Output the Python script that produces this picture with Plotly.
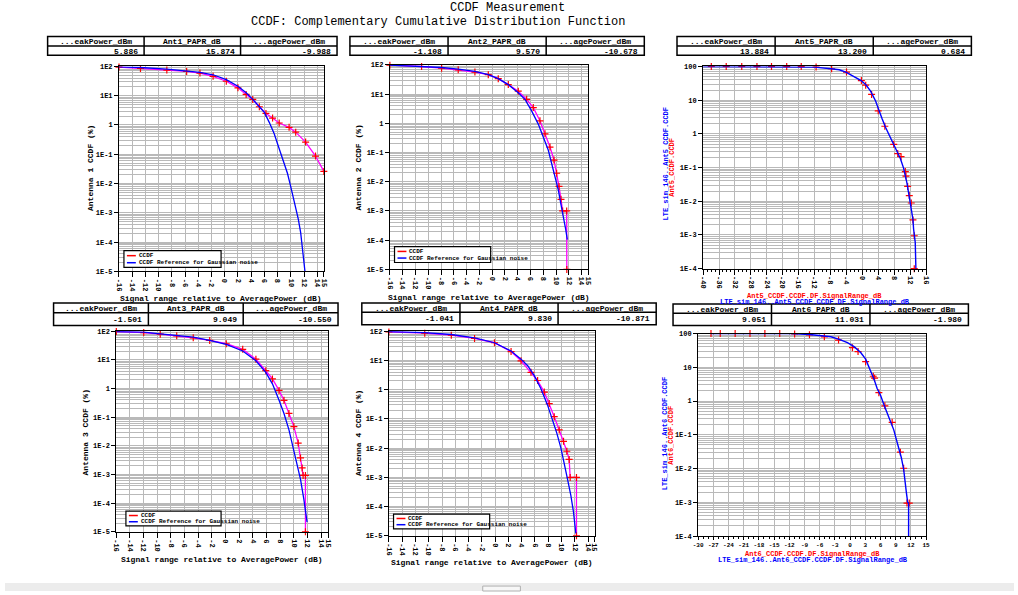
import plotly.graph_objects as go

W, H = 1018, 595
FONT = "Liberation Mono, DejaVu Sans Mono, monospace"

# ---------------- data ----------------
# Antenna 1
ant1_ref_x = [-16, -12.75, -8.76, -5.76, -3.75, -1.76, 0.24, 2.0, 3.24, 4.24, 5.24, 6.0, 6.74, 7.49,
              7.99, 8.49, 8.99, 9.49, 9.99, 10.34, 10.74, 11.14, 11.49, 11.74, 11.94, 12.14]
ant1_ref_y = [97, 92, 81, 71, 62.7, 52, 35.5, 21.2, 12.6, 7.5, 4.2, 2.7, 1.23, 0.5, 0.23, 0.106,
              0.049, 0.0224, 0.0079, 0.0037, 0.0017, 0.0006, 0.00021, 7.6e-5, 3.5e-5, 1e-5]
ant1_ccdf_x = [-16, -12.75, -8.76, -5.76, -3.75, -1.76, 0.24, 2.0, 3.24, 4.24, 5.24, 6.24, 7.24,
               8.24, 9.74, 10.74, 12.24, 13.74, 15.0]
ant1_ccdf_y = [95, 85.5, 75, 67.8, 59.5, 45.9, 31.2, 18.6, 11.1, 7.5, 4.2, 2.48, 1.73, 1.17, 0.83,
               0.57, 0.26, 0.087, 0.026]
# Antenna 2
ant2_ref_x = [-16, -11.04, -7.91, -5.31, -2.70, -0.61, 0.95, 2.52, 4.08, 5.13, 6.17, 7.21, 8.0, 8.78,
              9.30, 9.82, 10.34, 10.71, 11.13, 11.49, 11.75]
ant2_ref_y = [97.5, 90.2, 81.3, 71.4, 59.6, 46, 33.7, 21.1, 11.1, 6.6, 2.66, 0.94, 0.335, 0.119,
              0.042, 0.0151, 0.0053, 0.0019, 0.00067, 0.00024, 0.000105]
ant2_ccdf_x = [-16, -11.04, -7.91, -5.31, -2.70, -0.61, 0.95, 2.52, 4.08, 5.39, 6.43, 7.47, 8.26,
               9.04, 9.67, 10.08, 10.45, 10.76, 11.02, 11.65, 11.67]
ant2_ccdf_y = [98, 87.9, 77.2, 67.8, 56.6, 46, 33.7, 21.1, 12.6, 6.6, 3.45, 1.22, 0.435, 0.154,
               0.055, 0.0195, 0.0069, 0.0025, 0.001, 0.001, 1e-5]
# Antenna 3
ant3_ref_x = [-16, -11.99, -9.57, -7.16, -4.74, -2.33, 0.09, 2.50, 4.43, 5.88, 6.85, 7.82, 8.54,
              9.27, 9.85, 10.47, 10.96, 11.44, 11.92]
ant3_ref_y = [98, 92.4, 81, 72.8, 62.1, 47.7, 34.8, 20.5, 9.27, 3.67, 1.46, 0.388, 0.135, 0.036,
              0.0096, 0.0026, 0.00068, 0.00014, 0.0000219]
ant3_ccdf_x = [-16, -11.99, -9.57, -7.16, -4.74, -2.33, 0.09, 2.50, 4.43, 5.88, 6.85, 7.82, 8.54,
               9.27, 9.99, 10.62, 10.96, 11.20, 11.34, 11.68, 11.68]
ant3_ccdf_y = [98, 90, 78.9, 69, 58.9, 47.7, 36.6, 23.4, 10.6, 4.19, 2.16, 0.86, 0.389, 0.135,
               0.047, 0.0125, 0.0038, 0.0017, 0.00093, 0.00093, 1e-5]
# Antenna 4
ant4_ref_x = [-16, -10.6, -6.6, -3.1, -0.1, 2.4, 3.9, 4.9, 5.9, 6.9, 7.9, 8.65, 9.3, 9.9, 10.4,
              10.9, 11.4, 11.8, 12.15]
ant4_ref_y = [98, 90.2, 77.2, 59.6, 40.4, 21.1, 11.1, 6.6, 3.03, 1.07, 0.295, 0.092, 0.032, 0.0102,
              0.0032, 0.00087, 0.00024, 0.000065, 0.000012]
ant4_ccdf_x = [-16, -10.6, -6.6, -3.1, -0.1, 2.4, 3.9, 5.4, 6.4, 7.4, 8.15, 8.9, 9.65, 10.3, 10.8,
               11.15, 11.3, 12.25, 12.25]
ant4_ccdf_y = [95, 85.7, 73.3, 56.6, 40.4, 20.1, 9.7, 3.93, 2.06, 0.83, 0.335, 0.119, 0.042, 0.017,
               0.0078, 0.0041, 0.00099, 0.00099, 1e-5]
# Antenna 5 (two data sets)
ant5_sim_x = [-40, -15.77, -12.03, -7.88, -5.81, -4.15, -2.07, -0.41, 0.83, 2.07, 3.32, 4.15, 4.98,
              5.81, 7.05, 7.88, 8.71, 9.54, 10.37, 10.79, 11.20, 11.62, 12.03, 12.45, 12.70, 12.86,
              13.11, 13.28, 13.44]
ant5_sim_y = [100, 100, 95.6, 85.5, 79.9, 68.3, 50.9, 38.9, 29.1, 18.5, 9.46, 4.82, 2.75, 1.57, 0.80,
              0.51, 0.29, 0.186, 0.095, 0.060, 0.0345, 0.0175, 0.0089, 0.0051, 0.0029, 0.0015,
              0.00095, 0.0006, 1e-4]
ant5_ccdf_x = [-37.93, -34.19, -30.29, -26.47, -22.82, -19.00, -15.35, -11.62, -7.72, -3.98, -0.25,
               0.83, 2.32, 3.98, 5.64, 7.88, 8.88, 9.71, 10.79, 10.95, 11.37, 11.78, 12.28, 12.70,
               13.03, 13.03]
ant5_ccdf_y = [100, 100, 100, 100, 100, 100, 99, 95.6, 85.5, 68.3, 38.1, 27.8, 14.8, 4.82, 1.68,
               0.488, 0.26, 0.21, 0.076, 0.056, 0.0275, 0.0148, 0.0089, 0.0028, 0.00095, 1e-4]
# Antenna 6 (two data sets)
ant6_sim_x = [-27.46, -11.6, -8.02, -5.08, -3.78, -2.15, -0.52, 0.79, 2.09, 3.07, 4.05, 4.70, 5.36,
              6.01, 6.66, 7.31, 7.97, 8.62, 9.14, 9.66, 10.12, 10.57, 10.90, 11.10, 11.36, 11.55,
              11.55]
ant6_sim_y = [100, 100, 93.5, 83.6, 79.9, 66.8, 53.4, 40.8, 27.2, 17.4, 7.9, 4.53, 2.31, 1.48, 0.79,
              0.43, 0.246, 0.14, 0.0716, 0.0366, 0.0209, 0.0095, 0.0044, 0.002, 0.00101, 0.00095,
              1e-4]
ant6_ccdf_x = [-27.46, -25.63, -22.69, -19.76, -16.82, -13.89, -10.95, -8.02, -5.08, -2.28, 0.46,
               1.57, 3.07, 4.57, 4.83, 5.68, 6.86, 8.30, 9.93, 10.57, 11.23, 11.68]
ant6_ccdf_y = [100, 100, 100, 100, 100, 100, 97, 91.4, 79.9, 63.9, 38.1, 29.1, 14.6, 5.42, 4.74,
               1.77, 0.72, 0.234, 0.0305, 0.0102, 0.00095, 0.00095]

# summary tables
table_ant = ["Ant1", "Ant2", "Ant5", "Ant3", "Ant4", "Ant6"]
peak_dbm = [5.886, -1.108, 13.884, -1.501, -1.041, 9.051]
papr_db = [15.874, 9.570, 13.200, 9.049, 9.830, 11.031]
avg_dbm = [-9.988, -10.678, 0.684, -10.550, -10.871, -1.980]
table_cols = ["...eakPower_dBm", "_PAPR_dB", "...agePower_dBm"]

legend_labels = ["CCDF", "CCDF Reference for Gaussian noise"]

# tick labels
rel_ticks = [-16, -14, -12, -10, -8, -6, -4, -2, 0, 2, 4, 6, 8, 10, 12, 14, 15]
ant5_ticks = [-40, -36, -32, -28, -24, -20, -16, -12, -8, -4, 0, 4, 8, 12, 16]
ant6_ticks = [-30, -27, -24, -21, -18, -15, -12, -9, -6, -3, 0, 3, 6, 9, 12, 15]
y_ticks_7 = [1e-5, 1e-4, 1e-3, 1e-2, 1e-1, 1, 10, 100]
y_text_7 = ["1E-5", "1E-4", "1E-3", "1E-2", "1E-1", "1", "1E1", "1E2"]
y_ticks_6 = [1e-4, 1e-3, 1e-2, 1e-1, 1, 10, 100]
y_text_6 = ["1E-4", "1E-3", "1E-2", "1E-1", "1", "10", "100"]

# ---------------- layout geometry (pixels) ----------------
def px(x):
    return x / W

def py(y):
    return 1 - y / H

panels = {
    1: dict(x0=115.0, x1=321.7, y0=63.3, y1=271.0, xr=[-16, 15], yr=[-5, 2], xt=rel_ticks, yt=(y_ticks_7, y_text_7)),
    2: dict(x0=388.3, x1=588.3, y0=61.7, y1=269.0, xr=[-16, 15], yr=[-5, 2], xt=rel_ticks, yt=(y_ticks_7, y_text_7)),
    3: dict(x0=704.3, x1=929.3, y0=63.3, y1=268.3, xr=[-40, 16], yr=[-4, 2], xt=ant5_ticks, yt=(y_ticks_6, y_text_6)),
    4: dict(x0=112.3, x1=326.0, y0=331.7, y1=535.0, xr=[-16, 15], yr=[-5, 2], xt=rel_ticks, yt=(y_ticks_7, y_text_7)),
    5: dict(x0=387.3, x1=595.0, y0=331.7, y1=539.0, xr=[-16, 15], yr=[-5, 2], xt=rel_ticks, yt=(y_ticks_7, y_text_7)),
    6: dict(x0=699.3, x1=929.3, y0=334.0, y1=539.3, xr=[-30, 15], yr=[-4, 2], xt=ant6_ticks, yt=(y_ticks_6, y_text_6)),
}

GRID = "#b9b9b9"
fig = go.Figure()

def minor_log_vals(lo, hi):
    vals = []
    for e in range(lo, hi):
        for m in range(2, 10):
            vals.append(m * 10 ** e)
    return vals

for i, p in panels.items():
    sfx = "" if i == 1 else str(i)
    rotated = i != 6
    xa = dict(
        domain=[px(p["x0"]), px(p["x1"])], anchor="y" + sfx, range=p["xr"],
        tickmode="array", tickvals=p["xt"], ticktext=[str(v) for v in p["xt"]],
        tickangle=90 if rotated else 0,
        tickfont=dict(family=FONT, size=7 if rotated else 6, color="black", weight="bold"),
        ticks="outside", ticklen=5 if rotated else 3, tickcolor="black", showgrid=True, gridcolor=GRID,
        gridwidth=1, showline=True, linecolor="black", linewidth=1, mirror=True, zeroline=False,
    )
    if i in (3, 6):
        xa["minor"] = dict(dtick=1, ticks="outside", ticklen=2, tickcolor="black", showgrid=False)
    ya = dict(
        domain=[py(p["y1"]), py(p["y0"])], anchor="x" + sfx, type="log", range=p["yr"],
        tickmode="array", tickvals=p["yt"][0], ticktext=p["yt"][1],
        tickfont=dict(family=FONT, size=7, color="black", weight="bold"),
        ticks="outside", ticklen=4, tickcolor="black", showgrid=True, gridcolor=GRID, gridwidth=1,
        showline=True, linecolor="black", linewidth=1, mirror=True, zeroline=False,
        minor=dict(tickmode="array", tickvals=minor_log_vals(p["yr"][0], p["yr"][1]), showgrid=True,
                   gridcolor=GRID, gridwidth=1, ticks=""),
    )
    fig.layout["xaxis" + sfx] = xa
    fig.layout["yaxis" + sfx] = ya

MARK = dict(symbol="cross-thin", size=5, line=dict(color="#ff0000", width=1.2))

def add_pair(i, ccdf_x, ccdf_y, ref_x, ref_y):
    sfx = "" if i == 1 else str(i)
    fig.add_trace(go.Scatter(x=ccdf_x, y=ccdf_y, mode="lines+markers", xaxis="x" + sfx, yaxis="y" + sfx,
                             line=dict(color="#ff00ff", width=1.3), marker=MARK, showlegend=False,
                             cliponaxis=False))
    fig.add_trace(go.Scatter(x=ref_x, y=ref_y, mode="lines", xaxis="x" + sfx, yaxis="y" + sfx,
                             line=dict(color="#0000ff", width=1.3), showlegend=False))

def add_sim(i, ccdf_x, ccdf_y, sim_x, sim_y):
    sfx = "" if i == 1 else str(i)
    fig.add_trace(go.Scatter(x=ccdf_x, y=ccdf_y, mode="markers", xaxis="x" + sfx, yaxis="y" + sfx,
                             marker=MARK, showlegend=False, cliponaxis=False))
    fig.add_trace(go.Scatter(x=sim_x, y=sim_y, mode="lines", xaxis="x" + sfx, yaxis="y" + sfx,
                             line=dict(color="#0000ff", width=1.4), showlegend=False))

add_pair(1, ant1_ccdf_x, ant1_ccdf_y, ant1_ref_x, ant1_ref_y)
add_pair(2, ant2_ccdf_x, ant2_ccdf_y, ant2_ref_x, ant2_ref_y)
add_sim(3, ant5_ccdf_x, ant5_ccdf_y, ant5_sim_x, ant5_sim_y)
add_pair(4, ant3_ccdf_x, ant3_ccdf_y, ant3_ref_x, ant3_ref_y)
add_pair(5, ant4_ccdf_x, ant4_ccdf_y, ant4_ref_x, ant4_ref_y)
add_sim(6, ant6_ccdf_x, ant6_ccdf_y, ant6_sim_x, ant6_sim_y)

ann = []
shapes = []

def text(x, y, s, size=8, color="black", angle=0, weight="bold", xanchor="center"):
    ann.append(dict(x=px(x), y=py(y), xref="paper", yref="paper", text=s, showarrow=False,
                    xanchor=xanchor, yanchor="middle", textangle=angle,
                    font=dict(family=FONT, size=size, color=color, weight=weight)))

def hline(x0, x1, y, color="black", width=1):
    shapes.append(dict(type="line", xref="paper", yref="paper", x0=px(x0), x1=px(x1), y0=py(y), y1=py(y),
                       line=dict(color=color, width=width)))

def vline(x, y0, y1, color="black", width=1):
    shapes.append(dict(type="line", xref="paper", yref="paper", x0=px(x), x1=px(x), y0=py(y0), y1=py(y1),
                       line=dict(color=color, width=width)))

def box(x0, y0, x1, y1, width=1.5):
    shapes.append(dict(type="rect", xref="paper", yref="paper", x0=px(x0), x1=px(x1), y0=py(y1), y1=py(y0),
                       line=dict(color="black", width=width), fillcolor="white", layer="above"))

# summary tables (header row + value row)
table_boxes = [(43, 335, 33, 42.5, 52), (348, 645, 33, 42.5, 52), (678, 975, 33, 42.5, 52),
               (49, 336, 303, 313, 326), (360, 657, 303, 312.5, 325), (674, 972, 304, 313.5, 326)]
for k, (x0, x1, y0, ym, y1) in enumerate(table_boxes):
    box(x0, y0, x1, y1)
    hline(x0, x1, ym, width=1.5)
    cw = (x1 - x0) / 3
    vline(x0 + cw, y0, y1, width=1.5)
    vline(x0 + 2 * cw, y0, y1, width=1.5)
    heads = [table_cols[0], table_ant[k] + table_cols[1], table_cols[2]]
    vals = [peak_dbm[k], papr_db[k], avg_dbm[k]]
    for c in range(3):
        text(x0 + cw * (c + 0.5), (y0 + ym) / 2 + 0.5, heads[c], size=8)
        text(x0 + cw * (c + 1) - 4, (ym + y1) / 2 + 0.5, f"{vals[c]:.3f}", size=8, xanchor="right")

# legends (boxes drawn like the reference, text overflowing the frame)
legend_boxes = [(120, 250, 218, 267), (393, 246, 490, 262), (122, 514, 218, 529), (392, 517, 489, 532)]
for (x0, y0, x1, y1) in legend_boxes:
    box(x0, y0, x1, y1, width=1.2)
    r1 = y0 + (y1 - y0) * 0.3
    r2 = y0 + (y1 - y0) * 0.72
    hline(x0 + 3, x0 + 12, r1, color="#ff0000", width=1.5)
    hline(x0 + 3, x0 + 12, r2, color="#0000ff", width=1.5)
    text(x0 + 13, r1, legend_labels[0], size=6, xanchor="left")
    text(x0 + 13, r2, legend_labels[1], size=6, xanchor="left")

text(507, 4, "CCDF Measurement", size=12, weight="normal")
text(437, 18.5, "CCDF: Complementary Cumulative Distribution Function", size=12, weight="normal")

XT = "Signal range relative to AveragePower (dB)"
text(218.3, 299, XT)
text(488.3, 297, XT)
text(219, 563, XT)
text(491, 566.5, XT)
text(87, 166, "Antenna 1 CCDF (%)", angle=-90)
text(357, 166, "Antenna 2 CCDF (%)", angle=-90)
text(81, 434, "Antenna 3 CCDF (%)", angle=-90)
text(356, 435, "Antenna 4 CCDF (%)", angle=-90)
text(666.5, 162, "LTE_sim_146..Ant5_CCDF.CCDF", size=7, color="#0000ff", angle=-90)
text(673, 166, "Ant5_CCDF.CCDF", size=7, color="#ff0000", angle=-90)
text(817, 295.5, "Ant5_CCDF.CCDF.DF.SignalRange_dB", size=7, color="#ff0000")
text(817, 302, "LTE_sim_146..Ant5_CCDF.CCDF.DF.SignalRange_dB", size=7, color="#0000ff")
text(666, 436, "LTE_sim_146..Ant6_CCDF.CCDF", size=7, color="#0000ff", angle=-90)
text(672.5, 437, "Ant6_CCDF.CCDF", size=7, color="#ff0000", angle=-90)
text(815, 557.5, "Ant6_CCDF.CCDF.DF.SignalRange_dB", size=7, color="#ff0000")
text(815, 564, "LTE_sim_146..Ant6_CCDF.CCDF.DF.SignalRange_dB", size=7, color="#0000ff")

# window status strip at the bottom
shapes.append(dict(type="rect", xref="paper", yref="paper", x0=0, x1=1, y0=0, y1=py(587),
                   fillcolor="#ececec", line=dict(width=0), layer="above"))
shapes.append(dict(type="rect", xref="paper", yref="paper", x0=px(482), x1=px(520), y0=0, y1=py(590),
                   fillcolor="#f7f7f7", line=dict(color="#b0b0b0", width=1), layer="above"))

fig.update_layout(
    width=W, height=H, margin=dict(l=0, r=0, t=0, b=0),
    paper_bgcolor="white", plot_bgcolor="white", annotations=ann, shapes=shapes, showlegend=False,
)

fig.write_html("out.html", config={"displayModeBar": False},
               post_script="document.body.style.margin='0';document.body.style.overflow='hidden';")
